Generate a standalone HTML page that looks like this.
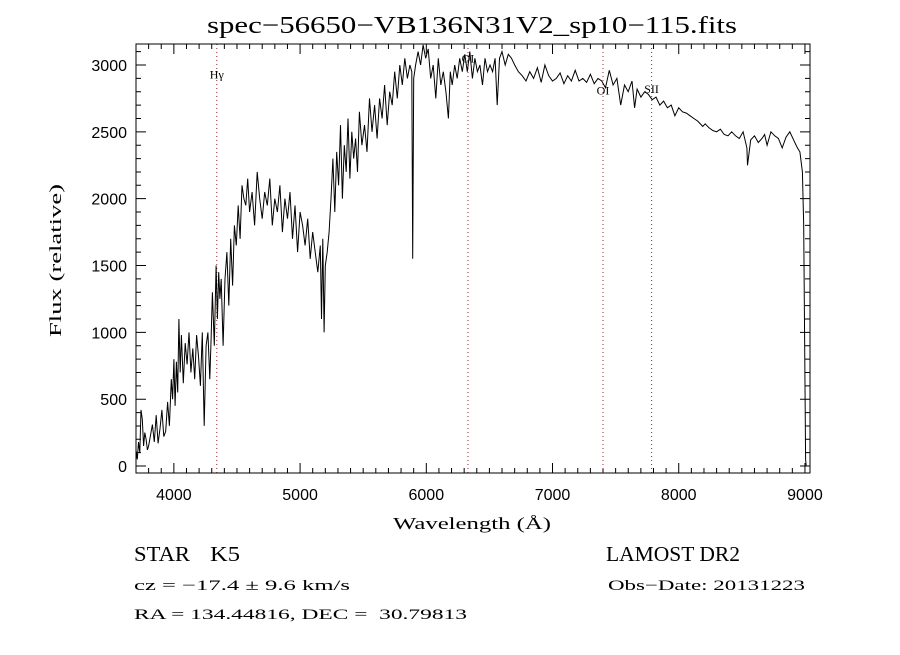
<!DOCTYPE html>
<html><head><meta charset="utf-8"><style>
body{margin:0;background:#fff;}
svg text{fill:#000;}
.ser{font-family:"Liberation Serif",serif;}
.san{font-family:"Liberation Sans",sans-serif;}
</style></head><body>
<svg id="chart" width="900" height="650" viewBox="0 0 900 650" xmlns="http://www.w3.org/2000/svg">
<rect width="900" height="650" fill="#fff"/>
<text class="ser" x="207" y="33" font-size="24" textLength="530" lengthAdjust="spacingAndGlyphs">spec−56650−VB136N31V2_sp10−115.fits</text>
<g id="ticks"></g>
<g id="lines"></g>
<path id="spec" fill="none" stroke="#000" stroke-width="1"/>
<rect x="136" y="44" width="674" height="429" fill="none" stroke="#000" stroke-width="1"/>
<text class="ser" x="393" y="529" font-size="17" textLength="158" lengthAdjust="spacingAndGlyphs">Wavelength (Å)</text>
<text class="ser" transform="translate(61,337) rotate(-90)" font-size="17" textLength="153" lengthAdjust="spacingAndGlyphs">Flux (relative)</text>
<text class="ser" x="134" y="561" font-size="21" textLength="56" lengthAdjust="spacingAndGlyphs">STAR</text>
<text class="ser" x="210" y="561" font-size="21" textLength="30" lengthAdjust="spacingAndGlyphs">K5</text>
<text class="ser" x="606" y="561" font-size="21" textLength="134" lengthAdjust="spacingAndGlyphs">LAMOST DR2</text>
<text class="ser" x="134" y="590" font-size="15" textLength="216" lengthAdjust="spacingAndGlyphs">cz = −17.4 ± 9.6 km/s</text>
<text class="ser" x="608" y="590" font-size="15" textLength="197" lengthAdjust="spacingAndGlyphs">Obs−Date: 20131223</text>
<text class="ser" x="134" y="619" font-size="15" textLength="333" lengthAdjust="spacingAndGlyphs" xml:space="preserve">RA = 134.44816, DEC =  30.79813</text>
</svg>
<script>
const wave=[3700,3710,3720,3730,3740,3750,3760,3770,3780,3790,
3800,3815,3830,3845,3860,3875,3890,3905,3920,3935,
3950,3965,3980,3990,4000,4010,4020,4030,4040,4050,
4060,4075,4090,4105,4120,4135,4150,4165,4180,4195,
4210,4225,4240,4255,4270,4285,4295,4305,4320,4335,
4345,4355,4365,4375,4390,4405,4420,4435,4450,4465,
4480,4495,4510,4525,4540,4555,4570,4585,4600,4620,
4640,4660,4680,4700,4720,4740,4760,4780,4800,4820,
4840,4860,4880,4900,4920,4940,4960,4980,5000,5020,
5040,5060,5080,5100,5120,5140,5160,5170,5180,5190,
5200,5215,5230,5245,5260,5275,5290,5305,5320,5335,
5350,5365,5380,5395,5410,5425,5440,5455,5470,5490,
5510,5530,5550,5570,5590,5610,5630,5650,5670,5690,
5710,5730,5750,5770,5790,5810,5830,5850,5870,5885,
5892,5900,5915,5935,5955,5975,5995,6015,6035,6055,
6075,6095,6115,6135,6155,6175,6190,6205,6225,6245,
6265,6285,6305,6325,6345,6365,6385,6405,6425,6445,
6465,6485,6505,6525,6545,6562,6580,6600,6625,6650,
6675,6700,6730,6760,6790,6820,6850,6880,6910,6940,
6970,7000,7030,7060,7090,7120,7150,7180,7210,7240,
7270,7300,7330,7360,7390,7420,7450,7480,7510,7540,
7570,7600,7630,7650,7670,7700,7730,7760,7790,7820,
7850,7880,7910,7940,7970,8000,8030,8060,8090,8120,
8150,8180,8190,8210,8240,8270,8300,8330,8360,8390,
8420,8450,8480,8510,8540,8545,8570,8600,8630,8660,
8680,8700,8730,8760,8790,8820,8850,8880,8910,8940,
8960,8980,8990,9000,9005,9010];
const flux=[120,50,180,100,420,350,150,250,200,120,
150,230,310,180,380,170,280,420,220,260,
480,300,650,500,800,450,780,550,1100,700,
980,620,920,760,1000,700,880,650,980,820,
600,1000,300,900,1000,650,950,1300,900,1500,
1100,1450,1250,1400,900,1400,1600,1200,1700,1350,
1800,1650,1950,1700,2100,2000,1950,2150,1900,2050,
1800,2200,2000,1850,2050,1950,2150,1800,2000,1900,
2100,1750,2000,1850,2050,1700,1950,1600,1900,1800,
1650,1850,1550,1750,1600,1450,1650,1100,1700,1000,
1500,1600,1750,2000,2300,1900,2350,2100,2550,2000,
2400,2200,2600,2150,2500,2300,2450,2200,2650,2400,
2550,2350,2750,2500,2700,2450,2750,2600,2850,2550,
2800,2700,2950,2750,3000,2850,3050,2900,3000,2950,
1550,2900,3000,3100,3000,3150,3050,3120,2900,3000,
2750,3050,2850,2950,2800,2600,2950,2850,3000,2900,
3050,2950,3080,2950,3100,2900,3050,2950,3000,2850,
3050,2950,3000,2950,3050,2700,3050,3100,3000,3080,
3050,3000,2950,2920,2880,2950,2900,2980,2870,3000,
2920,2880,2900,2940,2860,2920,2880,2960,2880,2900,
2870,2930,2860,2900,2880,2830,2960,2850,2900,2700,
2850,2800,2880,2680,2820,2760,2800,2780,2740,2760,
2700,2730,2680,2700,2620,2680,2650,2640,2620,2600,
2580,2550,2540,2560,2530,2510,2500,2520,2480,2470,
2500,2470,2450,2500,2380,2250,2440,2470,2420,2450,
2480,2400,2500,2470,2450,2380,2460,2500,2440,2380,
2350,2200,1800,600,50,0];
const xTickVals=[4000,5000,6000,7000,8000,9000];
const yTickVals=[0,500,1000,1500,2000,2500,3000];
const lineWaves=[4340,6330,7400,7785];
const lineLabels=["Hγ","OI","OI","SII"];
const labelFlux=[2900,3020,2780,2790];
const X0=136,X1=810,Y0=473,Y1=44,WMIN=3700,WMAX=9040,FMIN=-52,FMAX=3157;
const sx=w=>X0+(w-WMIN)/(WMAX-WMIN)*(X1-X0);
const sy=f=>Y0-(f-FMIN)/(FMAX-FMIN)*(Y0-Y1);
const NS='http://www.w3.org/2000/svg';
function mk(t,a,p){const e=document.createElementNS(NS,t);for(const k in a)e.setAttribute(k,a[k]);p.appendChild(e);return e;}
const tg=document.getElementById('ticks');
let d='';
for(let w=3700;w<=9040;w+=100){const x=sx(w);const L=(w%1000===0)?10:5;d+=`M${x},${Y0}v${-L}M${x},${Y1}v${L}`;}
for(let f=0;f<=3100;f+=100){const y=sy(f);const L=(f%500===0)?10:5;d+=`M${X0},${y}h${L}M${X1},${y}h${-L}`;}
const tp=mk('path',{d:d,stroke:'#000','stroke-width':1,fill:'none'},tg);


xTickVals.forEach(v=>{const t=mk('text',{x:sx(v),y:500,'font-size':16,'text-anchor':'middle',class:'san'},tg);t.textContent=v;

});
yTickVals.forEach(v=>{const t=mk('text',{x:127,y:sy(v)+6,'font-size':16,'text-anchor':'end',class:'san'},tg);t.textContent=v;

});
const lg=document.getElementById('lines');
lineWaves.forEach((w,i)=>{const x=sx(w);const l=mk('line',{x1:x,x2:x,y1:Y1,y2:Y0,stroke:'#8b2a2a','stroke-width':1,'stroke-dasharray':'1,3'},lg);


const t=mk('text',{x:x,y:sy(labelFlux[i]),'font-size':12,'text-anchor':'middle',class:'ser'},lg);t.textContent=lineLabels[i];

});
let p='';const n=Math.min(wave.length,flux.length);
for(let i=0;i<n;i++){p+=(i?'L':'M')+sx(wave[i]).toFixed(1)+','+Math.max(Y1,sy(flux[i])).toFixed(1);}
document.getElementById('spec').setAttribute('d',p);
</script>
</body></html>
